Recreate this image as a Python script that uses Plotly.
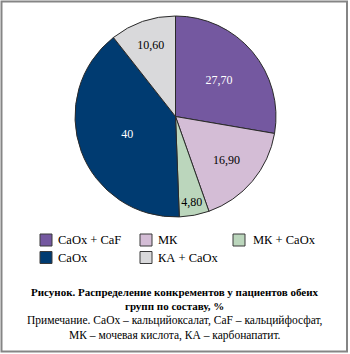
import plotly.graph_objects as go

# Stone composition shares, %
categories = ["CaOx + CaF", "МК", "МК + CaOx", "CaOx", "КА + CaOx"]
shares = [27.70, 16.90, 4.80, 40, 10.60]
share_labels = ["27,70", "16,90", "4,80", "40", "10,60"]

slice_colors = ["#7458A0", "#D4BDD6", "#BBD6BC", "#003B71", "#D9D9DB"]
label_colors = ["white", "black", "black", "white", "black"]

W, H = 350, 354
SERIF = "Liberation Serif"

fig = go.Figure(
    go.Pie(
        labels=categories,
        values=shares,
        text=share_labels,
        textinfo="text",
        textposition="inside",
        insidetextorientation="horizontal",
        insidetextfont=dict(family=SERIF, size=12, color=label_colors),
        sort=False,
        direction="clockwise",
        rotation=0,
        marker=dict(colors=slice_colors, line=dict(color="#2a2a2a", width=1)),
        domain=dict(x=[75 / W, 276 / W], y=[1 - 217 / H, 1 - 16 / H]),
        hoverinfo="label+value",
        showlegend=False,
    )
)

# Legend key: three columns, wrapping onto a second row
col_left = [40, 140, 233]      # px, left edge of each swatch
col_text_gap = [16, 16, 18]    # px, swatch left edge to label start
row_mid = [240, 257.5]         # px from top, row centre lines
sw = 12                        # swatch size, px

shapes = [
    dict(
        type="rect", xref="paper", yref="paper",
        x0=1.5 / W, x1=347 / W, y0=1 - 351.5 / H, y1=1 - 1.5 / H,
        line=dict(color="#858585", width=2),
    )
]
annotations = []
for i, (name, color) in enumerate(zip(categories, slice_colors)):
    r, c = divmod(i, 3)
    x0 = col_left[c]
    yc = row_mid[r]
    shapes.append(dict(
        type="rect", xref="paper", yref="paper",
        x0=x0 / W, x1=(x0 + sw) / W,
        y0=1 - (yc + sw / 2) / H, y1=1 - (yc - sw / 2) / H,
        fillcolor=color, line=dict(color="#3a3a3a", width=1),
    ))
    annotations.append(dict(
        text=name, x=(x0 + col_text_gap[c]) / W, y=1 - yc / H,
        xref="paper", yref="paper", xanchor="left", yanchor="middle",
        showarrow=False, font=dict(family=SERIF, size=12.5, color="black"),
    ))

annotations += [
    dict(
        text="<b>Рисунок. Распределение конкрементов у пациентов обеих<br>групп по составу, %</b>",
        x=0.5, y=1 - 284 / H, xref="paper", yref="paper",
        xanchor="center", yanchor="top", showarrow=False, align="center",
        font=dict(family=SERIF, size=11, color="black"),
    ),
    dict(
        text="Примечание. CaOx – кальцийоксалат, CaF – кальцийфосфат,<br>МК – мочевая кислота, КА – карбонапатит.",
        x=0.5, y=1 - 312 / H, xref="paper", yref="paper",
        xanchor="center", yanchor="top", showarrow=False, align="center",
        font=dict(family=SERIF, size=11.5, color="black"),
    ),
]

fig.update_layout(
    width=W,
    height=H,
    margin=dict(l=0, r=0, t=0, b=0),
    paper_bgcolor="white",
    plot_bgcolor="white",
    font=dict(family=SERIF, color="black"),
    showlegend=False,
    shapes=shapes,
    annotations=annotations,
)

fig.write_html("out.html")
